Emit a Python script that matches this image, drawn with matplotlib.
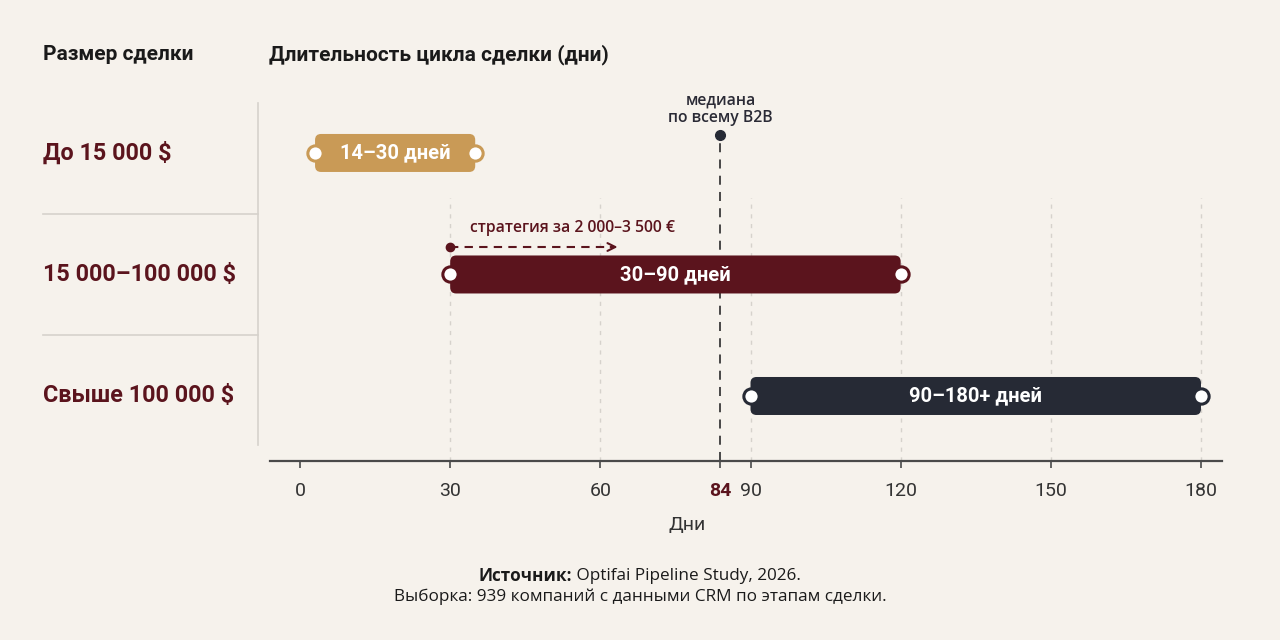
import matplotlib
matplotlib.use("Agg")
import matplotlib.pyplot as plt
import matplotlib.transforms as mtransforms
from matplotlib.patches import FancyBboxPatch
from matplotlib.lines import Line2D

# data
segments = ["До 15 000 $", "15 000–100 000 $", "Свыше 100 000 $"]
cycle_start = [3, 30, 90]
cycle_end = [35, 120, 180]
range_labels = ["14–30 дней", "30–90 дней", "90–180+ дней"]
median_days = 84
strategy_start = 30
strategy_end = 64
strategy_label = "стратегия за 2 000–3 500 €"
tick_values = [0, 30, 60, 84, 90, 120, 150, 180]

bg = "#F6F2EC"
gold = "#C99A56"
maroon = "#5B141D"
navy = "#262A35"
bar_colors = [gold, maroon, navy]
grid_col = "#D6D2CC"
text_dark = "#1A1A1A"

plt.rcParams["font.family"] = ["Roboto", "DejaVu Sans"]
small_font = ["Open Sans", "DejaVu Sans"]

W, H = 1280, 640
fig = plt.figure(figsize=(12.8, 6.4), dpi=100, facecolor=bg)

def fx(px):
    return px / W

def fy(py):
    return 1 - py / H

ax_top, ax_bot = 95, 461
ax = fig.add_axes([fx(270), fy(ax_bot), fx(1222) - fx(270), (ax_bot - ax_top) / H])
ax.set_facecolor(bg)
ax.set_xlim(-6, 184.2)
ax.set_ylim(2.535, -0.477)

px_per_x = 952 / (184.2 + 6)
px_per_y = (ax_bot - ax_top) / (2.535 + 0.477)

def ydata(py):
    return -0.477 + (py - ax_top) / px_per_y

for s in ["top", "right", "left"]:
    ax.spines[s].set_visible(False)
ax.spines["bottom"].set_color("#4A4A4A")
ax.spines["bottom"].set_linewidth(1.6)
ax.set_yticks([])
ax.set_xticks(tick_values)
ax.set_xticklabels([str(t) for t in tick_values])
ax.tick_params(axis="x", length=5, width=1.2, color="#4A4A4A", pad=10,
               labelsize=14, labelcolor="#333333")
for lab, t in zip(ax.get_xticklabels(), tick_values):
    if t == median_days:
        lab.set_color(maroon)
        lab.set_fontweight("bold")

# vertical grid
grid_top = ydata(198)
for t in tick_values:
    if t in (0, median_days):
        continue
    ax.plot([t, t], [ax.get_ylim()[0], grid_top], color=grid_col, lw=1,
            ls=(0, (3, 4)), zorder=1)

# bars
bar_h = 38 / px_per_y
r_x = 6 / px_per_x
aspect = (6 / px_per_y) / r_x
for i, (s0, s1, c, lab) in enumerate(zip(cycle_start, cycle_end, bar_colors, range_labels)):
    box = FancyBboxPatch((s0, i - bar_h / 2), s1 - s0, bar_h,
                         boxstyle=f"round,pad=0,rounding_size={r_x}",
                         mutation_aspect=aspect, fc=c, ec="none", zorder=3)
    ax.add_patch(box)
    ax.plot([s0, s1], [i, i], ls="none", marker="o", ms=11, mfc="white",
            mec=c, mew=2.2, zorder=4)
    ax.text((s0 + s1) / 2, i, lab, ha="center", va="center", color="white",
            fontsize=14.5, fontweight="bold", zorder=5)

# median line
dot_y = ydata(135)
ax.plot([median_days, median_days], [ax.get_ylim()[0], dot_y], color="#3A3A3A",
        lw=1.3, ls=(0, (5, 4)), zorder=2)
ax.plot([median_days], [dot_y], marker="o", ms=7, color=navy, zorder=4)
ax.text(median_days, ydata(109), "медиана\nпо всему B2B", ha="center", va="center",
        fontsize=11.3, fontweight=600, color="#2A2A35", linespacing=1.15,
        family=small_font)

# strategy arrow
ay = ydata(247)
ax.plot([strategy_start, strategy_end - 1.5], [ay, ay], color=maroon, lw=1.5,
        ls=(0, (4, 3)), zorder=3)
ax.annotate("", xy=(strategy_end, ay), xytext=(strategy_end - 2.5, ay),
            arrowprops=dict(arrowstyle="->", color=maroon, lw=1.5,
                            mutation_scale=14), zorder=3)
ax.plot([strategy_start], [ay], marker="o", ms=6, color=maroon, zorder=4)
ax.text(strategy_start + (488 - 468) / px_per_x, ydata(228), strategy_label,
        ha="left", va="center", fontsize=11.3, fontweight=600, color=maroon,
        family=small_font)

# left column
fig.text(fx(43), fy(55), "Размер сделки", ha="left", va="center",
         fontsize=15, fontweight="bold", color=text_dark)
fig.text(fx(269), fy(55), "Длительность цикла сделки (дни)", ha="left",
         va="center", fontsize=15, fontweight="bold", color=text_dark)

trans = mtransforms.blended_transform_factory(fig.transFigure, ax.transData)
for i, seg in enumerate(segments):
    fig.text(fx(43), i, seg, transform=trans, ha="left", va="center",
             fontsize=16.8, fontweight="bold", color=maroon)
for i in range(len(segments) - 1):
    fig.add_artist(Line2D([fx(43), fx(258)], [i + 0.5, i + 0.5], transform=trans,
                          color=grid_col, lw=1.2))
fig.add_artist(Line2D([fx(258), fx(258)], [fy(103), fy(445)], color=grid_col, lw=1.2))

# x label
fig.text(fx(687), fy(525), "Дни", ha="center", va="center", fontsize=14,
         color="#333333")

# footer
fig.canvas.draw()
r = fig.canvas.get_renderer()
t1 = fig.text(0, fy(576), "Источник:", ha="left", va="center", fontsize=12.3,
              fontweight="bold", color=text_dark, family=small_font)
t2 = fig.text(0, fy(576), " Optifai Pipeline Study, 2026.", ha="left", va="center",
              fontsize=12.3, color=text_dark, family=small_font)
w1 = t1.get_window_extent(r).width
w2 = t2.get_window_extent(r).width
x0 = (W - (w1 + w2)) / 2
t1.set_x(x0 / W)
t2.set_x((x0 + w1) / W)
fig.text(0.5, fy(597), "Выборка: 939 компаний с данными CRM по этапам сделки.",
         ha="center", va="center", fontsize=12.3, color=text_dark, family=small_font)

fig.savefig("out.png", dpi=100, facecolor=bg)
